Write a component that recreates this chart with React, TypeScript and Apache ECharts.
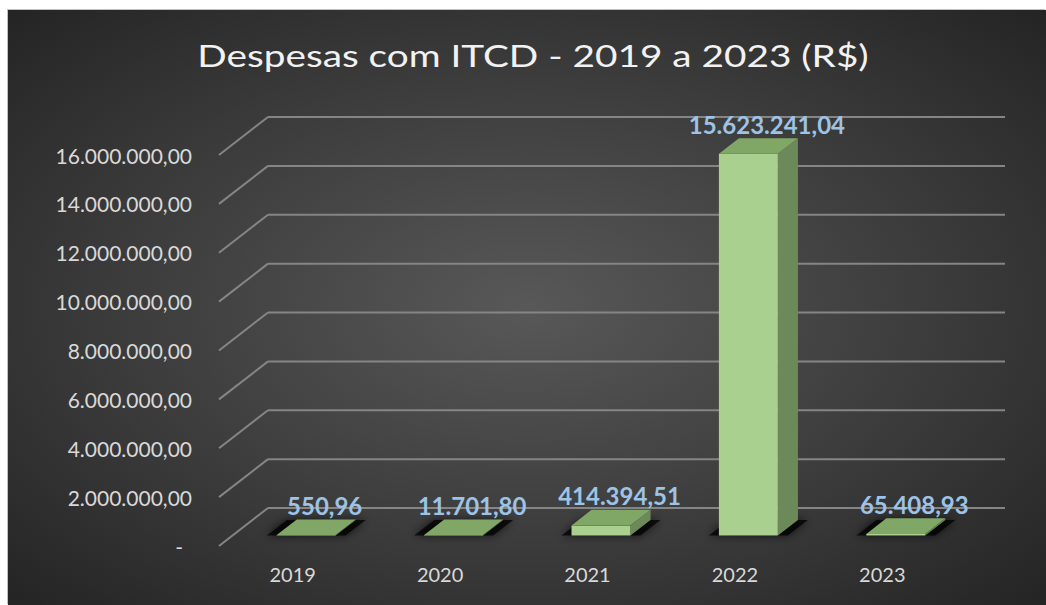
import React, { useEffect, useRef } from 'react';
import * as echarts from 'echarts';

const years = ['2019', '2020', '2021', '2022', '2023'];
const expenses = [550.96, 11701.8, 414394.51, 15623241.04, 65408.93];
const yTicks = [0, 2000000, 4000000, 6000000, 8000000, 10000000, 12000000, 14000000, 16000000];
const titleText = 'Despesas com ITCD - 2019 a 2023 (R$)';

const DEPTH_X = 49;
const DEPTH_Y = -38;
const BAR_OFF = 0.275;
const BAR_DEPTH = 0.41;
const BAR_W = 0.4;

function fmtBR(v: number): string {
  const [i, d] = v.toFixed(2).split('.');
  return i.replace(/\B(?=(\d{3})+(?!\d))/g, '.') + ',' + d;
}

export default function App() {
  const ref = useRef<HTMLDivElement>(null);
  useEffect(() => {
    document.body.style.margin = '0';
    const chart = echarts.init(ref.current!, null, { renderer: 'svg' });
    const option: any = {
      animation: false,
      backgroundColor: 'transparent',
      grid: { left: 211, right: 90, top: 145, bottom: 59 },
      graphic: [
        {
          type: 'text',
          x: 525,
          y: 45,
          scaleX: 1.25,
          z: 10,
          style: {
            text: titleText,
            fill: '#f2f2f2',
            font: '31px Lato',
            textAlign: 'center',
            textVerticalAlign: 'middle',
            align: 'center',
            verticalAlign: 'middle',
            shadowBlur: 4,
            shadowColor: 'rgba(0,0,0,0.85)',
            shadowOffsetX: 1,
            shadowOffsetY: 2,
          },
        },
      ],
      xAxis: {
        type: 'category',
        data: years,
        axisLine: { show: false },
        axisTick: { show: false },
        axisLabel: { color: '#d9d9d9', fontFamily: 'Lato', fontSize: 20, margin: 18 },
      },
      yAxis: {
        type: 'value',
        min: 0,
        max: 16000000,
        interval: 2000000,
        splitLine: { show: false },
        axisLine: { show: false },
        axisTick: { show: false },
        axisLabel: {
          color: '#d9d9d9',
          fontFamily: 'Lato',
          fontSize: 21,
          margin: 27,
          formatter: (v: number) => (v === 0 ? '{z|-}' : fmtBR(v)),
          rich: { z: { color: '#d9d9d9', fontFamily: 'Lato', fontSize: 21, padding: [0, 9, 0, 0] } },
        },
      },
      series: [
        {
          type: 'custom',
          name: 'wall',
          z: 1,
          silent: true,
          data: yTicks.map((v) => [0, v]),
          renderItem: (params: any, api: any) => {
            const cs = params.coordSys;
            const y = api.coord([0, api.value(1)])[1];
            const left = cs.x;
            const right = cs.x + cs.width;
            const st = { stroke: '#858585', lineWidth: 2 };
            return {
              type: 'group',
              children: [
                { type: 'line', shape: { x1: left, y1: y, x2: left + DEPTH_X, y2: y + DEPTH_Y }, style: st },
                { type: 'line', shape: { x1: left + DEPTH_X, y1: y + DEPTH_Y, x2: right + DEPTH_X, y2: y + DEPTH_Y }, style: st },
              ],
            };
          },
        },
        {
          type: 'custom',
          name: 'Despesas',
          z: 5,
          data: expenses.map((v, i) => [i, v]),
          renderItem: (params: any, api: any) => {
            const i = api.value(0);
            const v = api.value(1);
            const base = api.coord([i, 0]);
            const top = api.coord([i, v]);
            const band = api.size([1, 0])[0];
            const w = band * BAR_W;
            const ox = DEPTH_X * BAR_OFF;
            const oy = DEPTH_Y * BAR_OFF;
            const dx = DEPTH_X * BAR_DEPTH;
            const dy = DEPTH_Y * BAR_DEPTH;
            const cx = base[0] + ox;
            const x0 = cx - w / 2;
            const x1 = cx + w / 2;
            const yb = base[1] + oy;
            const yt = Math.min(top[1] + oy, yb - 0.5);
            return {
              type: 'group',
              children: [
                {
                  type: 'polygon',
                  shape: { points: [[x0 - 10, yb], [x1 + 10, yb], [x1 + dx + 10, yb + dy], [x0 + dx - 10, yb + dy]] },
                  style: { fill: 'rgba(0,0,0,0.75)', shadowBlur: 10, shadowColor: 'rgba(0,0,0,0.9)' },
                },
                {
                  type: 'polygon',
                  shape: { points: [[x1, yt], [x1 + dx, yt + dy], [x1 + dx, yb + dy], [x1, yb]] },
                  style: { fill: '#6c8a59' },
                },
                {
                  type: 'rect',
                  shape: { x: x0, y: yt, width: w, height: yb - yt },
                  style: { fill: '#a9d08e' },
                },
                {
                  type: 'polygon',
                  shape: { points: [[x0, yt], [x1, yt], [x1 + dx, yt + dy], [x0 + dx, yt + dy]] },
                  style: { fill: '#80a766' },
                },
                {
                  type: 'text',
                  style: {
                    x: base[0] + 32,
                    y: yt + dy - 14,
                    text: fmtBR(v),
                    fill: '#9dc3e6',
                    font: 'bold 24px Lato',
                    align: 'center',
                    verticalAlign: 'middle',
                    textAlign: 'center',
                    textVerticalAlign: 'middle',
                  },
                },
              ],
            };
          },
        },
      ],
    };
    chart.setOption(option);
    return () => chart.dispose();
  }, []);
  return (
    <div style={{ position: 'fixed', left: 0, top: 0, width: 1046, height: 605, background: '#ffffff', overflow: 'hidden' }}>
      <div
        ref={ref}
        style={{
          position: 'absolute',
          left: 8,
          top: 10,
          width: 1038,
          height: 595,
          background: 'radial-gradient(ellipse at 50% 50%, #585858 0%, #3c3c3c 55%, #242424 100%)',
          boxShadow: '-1px -1px 0 #c0c0c0',
        }}
      />
    </div>
  );
}
